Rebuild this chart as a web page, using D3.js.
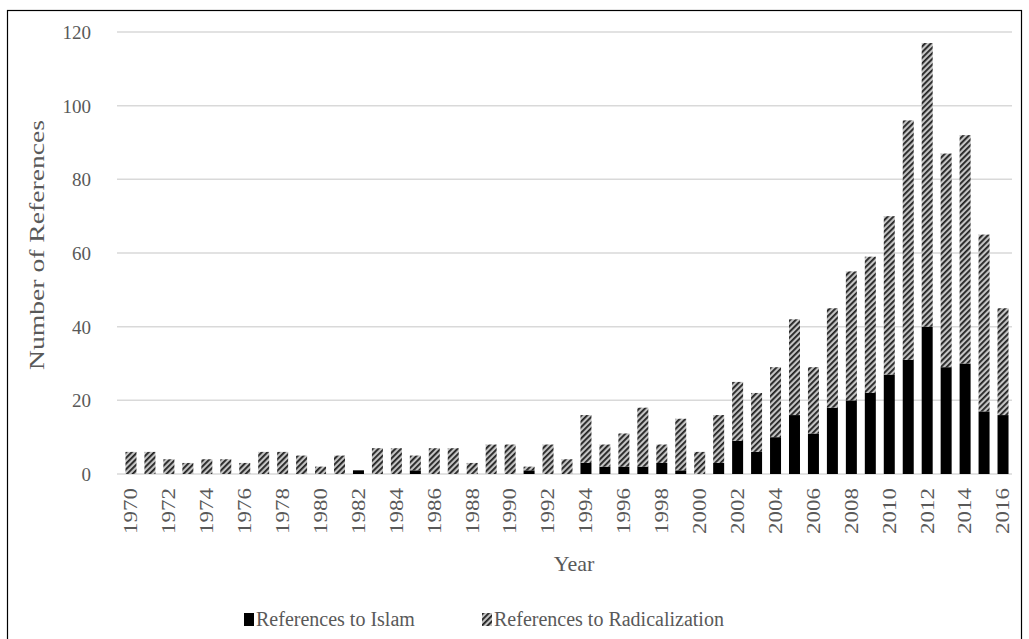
<!DOCTYPE html>
<html>
<head>
<meta charset="utf-8">
<script src="https://cdn.jsdelivr.net/npm/d3@7"></script>
<style>
  html, body { margin: 0; padding: 0; background: #fff; }
  svg { display: block; }
</style>
</head>
<body>
<svg id="chart" width="1029" height="639"></svg>
<script>
const years = d3.range(1970, 2017).map(String);
const islam = [0,0,0,0,0,0,0,0,0,0,0,0,1,0,0,1,0,0,0,0,0,1,0,0,3,2,2,2,3,1,0,3,9,6,10,16,11,18,20,22,27,31,40,29,30,17,16];
const radicalization = [6,6,4,3,4,4,3,6,6,5,2,5,0,7,7,4,7,7,3,8,8,1,8,4,13,6,9,16,5,14,6,13,16,16,19,26,18,27,35,37,43,65,77,58,62,48,29];
const yTicks = [0,20,40,60,80,100,120];
const xTickLabels = years.filter((d, i) => i % 2 === 0);
const seriesNames = ["References to Islam", "References to Radicalization"];

const svg = d3.select("#chart");
const font = "'Liberation Serif', 'Times New Roman', serif";
const textColor = "#595959";

// outer frame
svg.append("rect").attr("x", 7.5).attr("y", 10.5).attr("width", 1014).attr("height", 640)
  .attr("fill", "none").attr("stroke", "#000").attr("stroke-width", 1.2);

// hatch pattern
const defs = svg.append("defs");
const pat = defs.append("pattern").attr("id", "hatch").attr("patternUnits", "userSpaceOnUse")
  .attr("width", 4).attr("height", 4).attr("patternTransform", "rotate(-45)");
pat.append("rect").attr("width", 4).attr("height", 4).attr("fill", "#c4c4c4");
pat.append("rect").attr("width", 4).attr("height", 1.8).attr("fill", "#202020");

const x = d3.scaleBand().domain(years).range([121.5, 1012.5]).paddingInner(0.42).paddingOuter(0.21);
const y = d3.scaleLinear().domain([0, 120]).range([474, 32]);

// gridlines
svg.append("g").selectAll("line").data(yTicks).join("line")
  .attr("x1", 117).attr("x2", 1012)
  .attr("y1", d => y(d)).attr("y2", d => y(d))
  .attr("stroke", "#d9d9d9").attr("stroke-width", 1.5);

// y axis labels
const yAxis = d3.axisLeft(y).tickValues(yTicks).tickSize(0).tickPadding(0);
const gy = svg.append("g").attr("transform", "translate(91,0)").call(yAxis);
gy.select(".domain").remove();
gy.selectAll("text").attr("font-family", font).attr("font-size", 19).attr("fill", textColor)
  .attr("dy", "0.35em");

// bars
const stackData = years.map((yr, i) => ({ year: yr, islam: islam[i], rad: radicalization[i] }));
const stack = d3.stack().keys(["islam", "rad"])(stackData);
const fills = ["#000", "url(#hatch)"];
svg.append("g").selectAll("g").data(stack).join("g")
  .attr("fill", (d, i) => fills[i])
  .selectAll("rect").data(d => d).join("rect")
  .attr("x", d => x(d.data.year))
  .attr("width", x.bandwidth())
  .attr("y", d => y(d[1]))
  .attr("height", d => Math.max(0, y(d[0]) - y(d[1])));

// x axis
const xAxis = d3.axisBottom(x).tickValues(xTickLabels).tickSize(0).tickPadding(0);
const gx = svg.append("g").attr("transform", "translate(0,488)").call(xAxis);
gx.select(".domain").remove();
gx.selectAll("text").attr("font-family", font).attr("font-size", 18).attr("fill", textColor)
  .attr("transform", "rotate(-90)").attr("text-anchor", "end")
  .attr("x", 0).attr("y", 0).attr("dx", "0").attr("dy", "0.35em")
  .attr("textLength", 46).attr("lengthAdjust", "spacingAndGlyphs");

// axis titles
svg.append("text").attr("x", 574).attr("y", 571).attr("text-anchor", "middle")
  .attr("font-family", font).attr("font-size", 22).attr("fill", textColor).text("Year");
svg.append("text").attr("transform", "translate(44,245) rotate(-90)").attr("text-anchor", "middle")
  .attr("font-family", font).attr("font-size", 22).attr("fill", textColor)
  .attr("textLength", 250).attr("lengthAdjust", "spacingAndGlyphs").text("Number of References");

// legend
const legend = svg.append("g");
const legendPos = [244, 482];
seriesNames.forEach((name, i) => {
  const g = legend.append("g").attr("transform", `translate(${legendPos[i]},613)`);
  g.append("rect").attr("x", 0).attr("y", 0).attr("width", 10).attr("height", 13).attr("fill", fills[i]);
  g.append("text").attr("x", 12).attr("y", 13).attr("font-family", font).attr("font-size", 20)
    .attr("fill", textColor).text(name);
});
</script>
</body>
</html>
